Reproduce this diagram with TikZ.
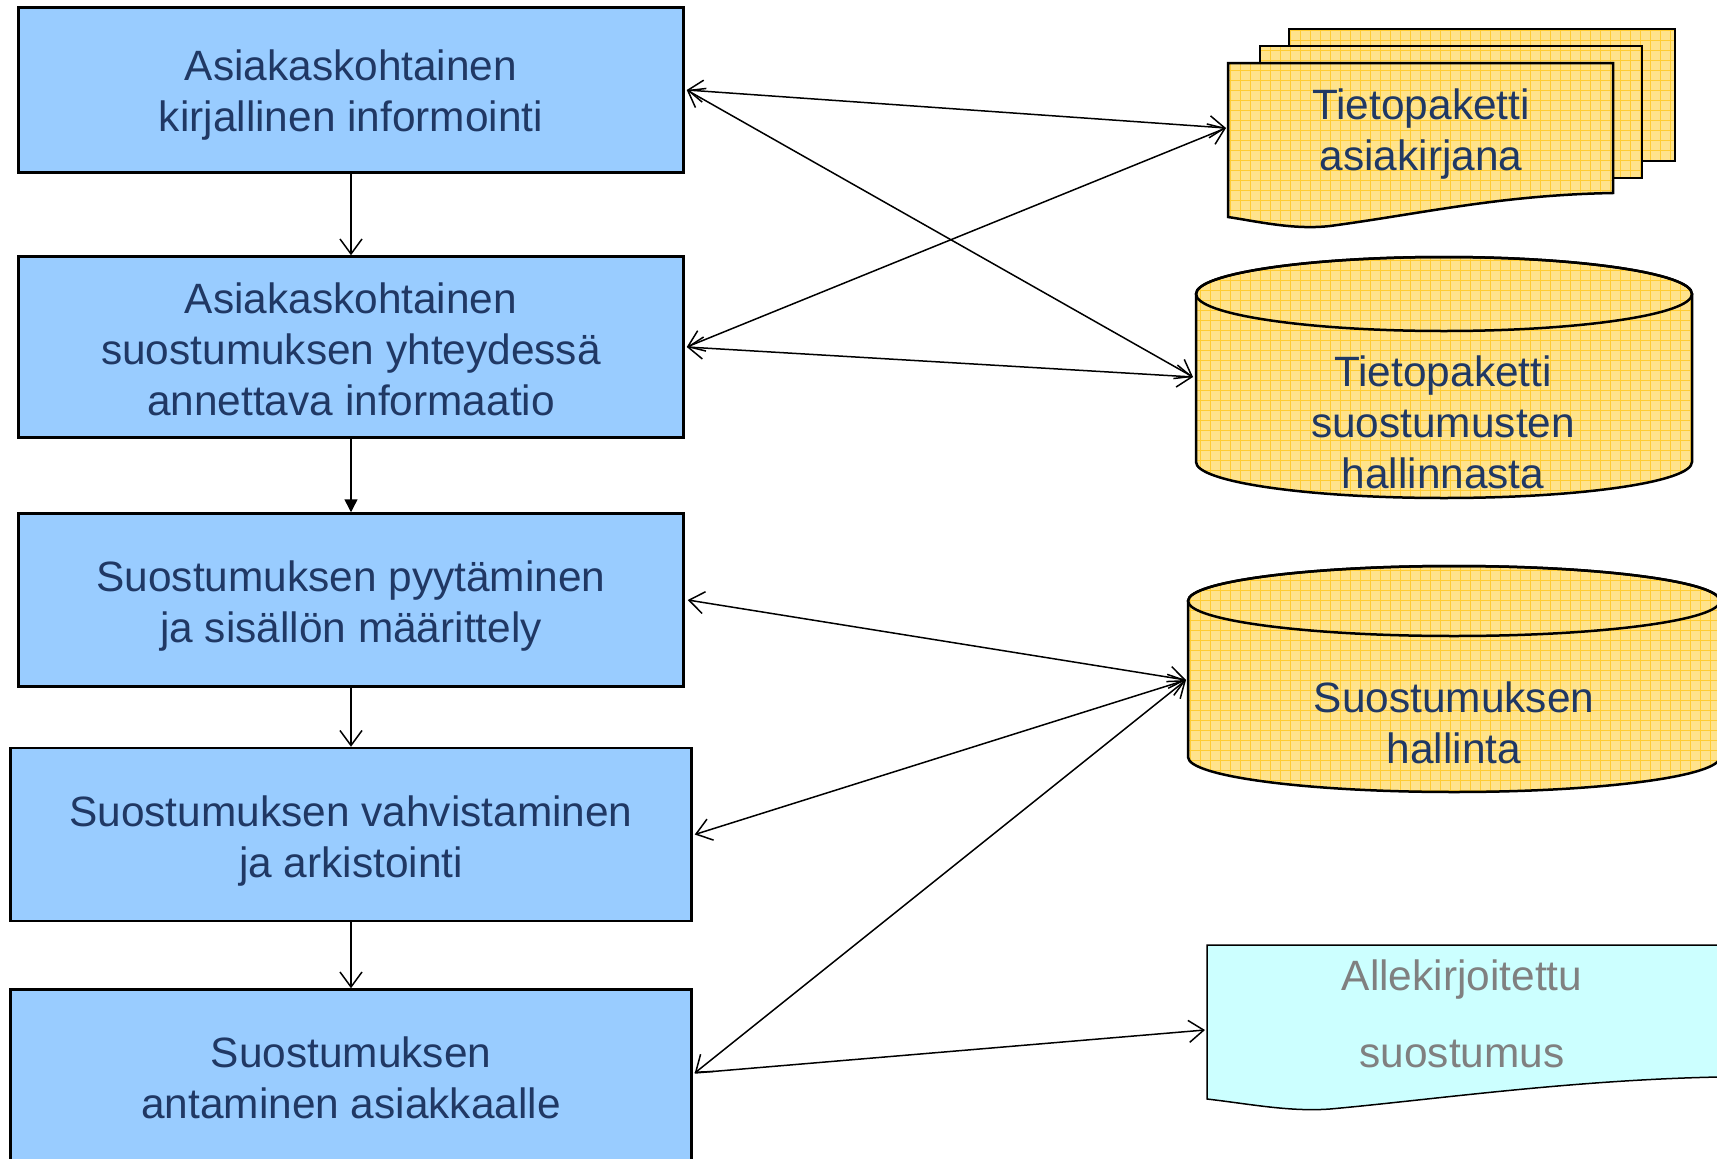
\documentclass[tikz,border=0pt]{standalone}
\usepackage{fontspec}
\setmainfont{Liberation Sans}
\usetikzlibrary{arrows.meta}
\definecolor{boxblue}{HTML}{99CCFF}
\definecolor{navy}{HTML}{203864}
\definecolor{yfillc}{HTML}{FFE38C}
\definecolor{ygridc}{HTML}{FFCC33}
\definecolor{cyanfill}{HTML}{CCFFFF}
\definecolor{graytext}{HTML}{808080}
\tikzset{
  procbox/.style={draw=black, line width=2.5pt, fill=boxblue, inner sep=0pt},
  boxtext/.style={align=center, text=navy, inner sep=0pt,
    font=\fontsize{42.4}{51}\selectfont},
  shapetext/.style={align=center, text=navy, inner sep=0pt,
    font=\fontsize{42.4}{51}\selectfont},
  graytextstyle/.style={align=center, text=graytext, inner sep=0pt,
    font=\fontsize{42.4}{77}\selectfont},
  barb/.tip={Straight Barb[length=15pt,width=22pt]},
  link/.style={line width=1.5pt, barb-barb},
  linkone/.style={line width=1.5pt, -barb},
  vlink/.style={line width=1.5pt, -barb},
  vlinkfilled/.style={line width=1.5pt, -{Triangle[length=13pt,width=13pt]}},
  gridline/.style={ygridc, line width=0.9pt},
  yborder/.style={line width=2.5pt, line join=miter}
}
\newcommand\yshape[1]{%
  \fill[yfillc] #1;
  \begin{scope}
    \clip #1;
    \foreach \gx in {1100,1110,...,1720} \draw[gridline] (\gx,0) -- (\gx,1159);
    \foreach \gy in {0,10,...,1160} \draw[gridline] (1100,\gy) -- (1720,\gy);
  \end{scope}
  \draw[yborder] #1;
}
\begin{document}
\begin{tikzpicture}[x=1pt,y=-1pt]
\useasboundingbox (0,0) rectangle (1717,1159);
\clip (0,0) rectangle (1717,1159);
\fill[white] (0,0) rectangle (1717,1159);

% left process boxes
\node[procbox, minimum width=665pt, minimum height=165pt] (b1) at (351,90) {};
\node[procbox, minimum width=665pt, minimum height=181pt] (b2) at (351,347) {};
\node[procbox, minimum width=665pt, minimum height=173pt] (b3) at (351,600) {};
\node[procbox, minimum width=681pt, minimum height=173pt] (b4) at (351,834.5) {};
\node[procbox, minimum width=681pt, minimum height=175pt] (b5) at (351,1077) {};
\node[boxtext] (t1) at ([yshift=-5.5pt]b1.center) {Asiakaskohtainen\\kirjallinen informointi};
\node[boxtext] (t2) at ([yshift=-2pt]b2.center) {Asiakaskohtainen\\suostumuksen yhteydessä\\annettava informaatio};
\node[boxtext] (t3) at ([yshift=-6.5pt]b3.center) {Suostumuksen pyytäminen\\ja sisällön määrittely};
\node[boxtext] (t4) at ([yshift=-6.5pt]b4.center) {Suostumuksen vahvistaminen\\ja arkistointi};
\node[boxtext] (t5) at ([yshift=-1pt]b5.center) {Suostumuksen\\antaminen asiakkaalle};

% stacked documents
\yshape{(1289,29) rectangle (1675,161)}
\yshape{(1260,46) rectangle (1642,178)}
\yshape{(1228,63) -- (1613,63) -- (1613,193) .. controls (1500,195) and (1420,214) .. (1330,226) .. controls (1295,230) and (1260,222) .. (1228,217) -- cycle}
\node[shapetext] (stack) at (1421,134) {Tietopaketti\\asiakirjana};

% cylinder 1
\yshape{(1196,294) -- (1196,462) arc[start angle=180, end angle=0, x radius=248, y radius=36] -- (1692,294) arc[start angle=0, end angle=-180, x radius=248, y radius=37] -- cycle}
\draw[yborder] (1444,294) ellipse [x radius=248, y radius=37];
\node[shapetext] (cyl1) at (1443,422) {Tietopaketti\\suostumusten\\hallinnasta};

% cylinder 2
\yshape{(1188,601) -- (1188,757) arc[start angle=180, end angle=0, x radius=266, y radius=35] -- (1720,601) arc[start angle=0, end angle=-180, x radius=266, y radius=35] -- cycle}
\draw[yborder] (1454,601) ellipse [x radius=266, y radius=35];
\node[shapetext] (cyl2) at (1454,723) {Suostumuksen\\hallinta};

% signed consent document
\filldraw[fill=cyanfill, draw=black, line width=1.5pt] (1207,945) -- (1719,945) -- (1719,1077) .. controls (1570,1080) and (1430,1100) .. (1330,1109) .. controls (1290,1112) and (1250,1104) .. (1207,1099) -- cycle;
\node[graytextstyle] (signed) at (1462,1014) {Allekirjoitettu\\suostumus};

% connection points on the right shapes
\coordinate (stackL) at (1226,128);
\coordinate (cyl1L) at (1193,377);
\coordinate (cyl2L) at (1186,680);
\coordinate (signedL) at (1205,1030);

% vertical flow
\draw[vlink] (b1) -- (b2);
\draw[vlinkfilled] (b2) -- (b3);
\draw[vlink] (b3) -- (b4);
\draw[vlink] (b4) -- (b5);

% cross links
\draw[link] ([xshift=2pt]b1.east) -- (stackL);
\draw[link] ([xshift=2pt]b1.east) -- (cyl1L);
\draw[link] ([xshift=2pt]b2.east) -- (stackL);
\draw[link] ([xshift=2pt]b2.east) -- (cyl1L);
\draw[link] ([xshift=3pt]b3.east) -- (cyl2L);
\draw[link] ([xshift=2pt]b4.east) -- (cyl2L);
\draw[link] ([xshift=2pt,yshift=4pt]b5.east) -- (cyl2L);
\draw[linkone] ([xshift=2pt,yshift=4pt]b5.east) -- (signedL);
\end{tikzpicture}
\end{document}
